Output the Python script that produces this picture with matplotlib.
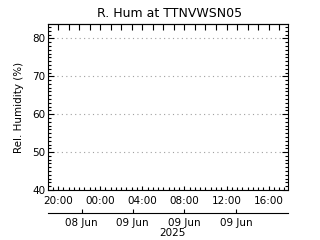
import datetime as dt

import matplotlib
matplotlib.use("Agg")
import matplotlib.pyplot as plt
import matplotlib.dates as mdates
from matplotlib.ticker import MultipleLocator

# Chart content
title = "R. Hum at TTNVWSN05"
ylabel = "Rel. Humidity (%)"
year_label = "2025"
t_start = dt.datetime(2025, 6, 8, 19, 3)
t_end = dt.datetime(2025, 6, 9, 17, 50)
y_min, y_max = 40, 83.8
y_ticks = [40, 50, 60, 70, 80]
date_ticks = [dt.datetime(2025, 6, 8, 22, 15), dt.datetime(2025, 6, 9, 3, 5),
              dt.datetime(2025, 6, 9, 8, 0), dt.datetime(2025, 6, 9, 12, 55)]
date_labels = ["08 Jun", "09 Jun", "09 Jun", "09 Jun"]

plt.rcParams["font.family"] = ["DejaVu Sans"]
lw = 0.8

fig = plt.figure(figsize=(3.2, 2.4), dpi=100)
ax = fig.add_axes([48 / 320, 1 - 190 / 240, 240 / 320, 166 / 240])

ax.set_xlim(t_start, t_end)
ax.set_ylim(y_min, y_max)
ax.set_yticks(y_ticks)
ax.yaxis.set_minor_locator(MultipleLocator(1))
ax.grid(axis="y", ls=(0, (1, 3)), c="#a0a0a0", lw=lw)
for s in ax.spines.values():
    s.set_linewidth(lw)

ax.xaxis.set_major_locator(mdates.HourLocator(byhour=range(0, 24, 4)))
ax.xaxis.set_major_formatter(mdates.DateFormatter("%H:%M"))
ax.xaxis.set_minor_locator(mdates.MinuteLocator(byminute=[0, 30]))
ax.tick_params(axis="x", which="both", direction="in", top=False, labelsize=7.5, width=lw)
ax.tick_params(axis="x", which="major", length=3, pad=4)
ax.tick_params(axis="x", which="minor", length=2)
ax.tick_params(axis="y", which="both", direction="in", right=True, labelsize=7.5, width=lw)
ax.tick_params(axis="y", which="major", length=4, pad=2)
ax.tick_params(axis="y", which="minor", length=2)

# top axis: hourly ticks, no labels
top = ax.secondary_xaxis("top")
top.xaxis.set_major_locator(mdates.HourLocator())
top.tick_params(direction="in", length=4, width=lw, labeltop=False)
top.spines["top"].set_linewidth(lw)

# date axis below the time labels
dax = ax.secondary_xaxis(-0.137)
dax.set_xticks(date_ticks)
dax.set_xticklabels(date_labels)
dax.tick_params(direction="in", length=3, width=lw, labelsize=7.5, pad=4)
dax.spines["bottom"].set_linewidth(lw)

ax.set_title(title, fontsize=9, pad=5, x=0.505)
ax.set_ylabel(ylabel, fontsize=7.5, labelpad=6)
fig.text(172 / 320, 1 - 233 / 240, year_label, ha="center", va="center", fontsize=7.5)

fig.savefig("out.png", dpi=100)
